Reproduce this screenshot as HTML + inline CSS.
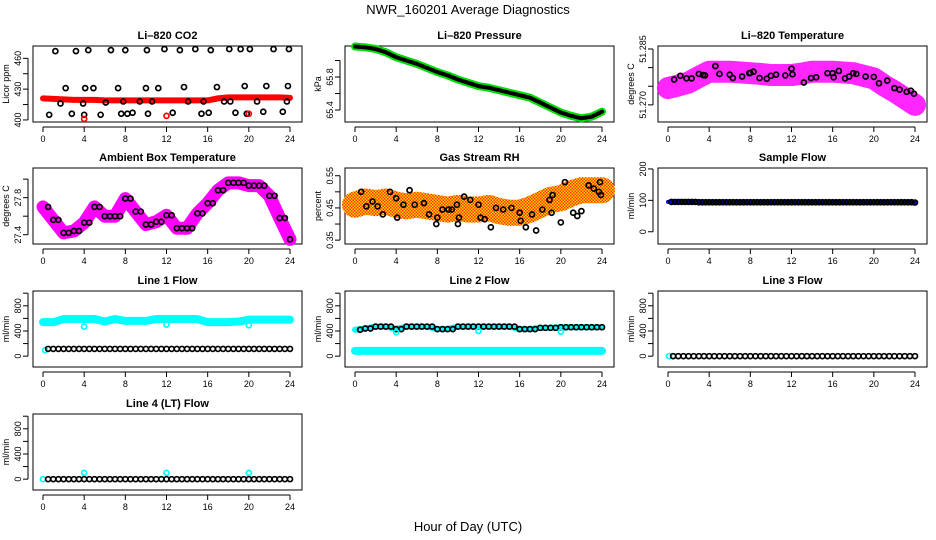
<!DOCTYPE html>
<html><head><meta charset="utf-8">
<style>
body{margin:0;background:#fff}
svg{display:block;font-family:"Liberation Sans",Arial,sans-serif}
</style></head>
<body>
<svg id="c" width="936" height="540" viewBox="0 0 936 540" xmlns="http://www.w3.org/2000/svg">
<defs>
<pattern id="rhpat" width="3" height="3" patternUnits="userSpaceOnUse"><rect width="3" height="3" fill="#ffd700"/><rect width="1.5" height="1.5" fill="#ff3000"/><rect x="1.5" y="1.5" width="1.5" height="1.5" fill="#ff3000"/></pattern>
</defs>
<text x="468" y="14" text-anchor="middle" font-size="13">NWR_160201  Average Diagnostics</text>
<text x="468" y="531" text-anchor="middle" font-size="13">Hour of Day (UTC)</text>
</svg>
<script>
// ---- data ----
const hours = [0,1,2,3,4,5,6,7,8,9,10,11,12,13,14,15,16,17,18,19,20,21,22,23,24];
const xTicks = [0,4,8,12,16,20,24];
// CO2
const co2Band = [421,420.5,420,419.5,419.5,419.5,419,419,419,419,419,419,419,419,419,419,419,421,422,422,422,422,422,422,421.5];
const co2BlackX = [0.6,1.2,1.7,2.2,2.8,3.2,3.9,4.0,4.1,4.4,4.9,5.6,6.1,6.6,7.3,7.6,7.8,8.0,8.2,8.7,9.4,10.0,10.1,10.2,10.6,11.2,11.8,12.6,13.3,13.7,14.1,14.8,15.4,15.6,16.1,16.3,16.9,17.6,18.1,18.2,18.7,19.2,19.6,19.8,20.1,20.8,21.4,21.7,22.4,23.3,23.7,23.8,23.9];
const co2BlackY = [405,467,416,431,406,467,416,405,431,468,431,405,417,468,431,406,418,468,406,407,418,431,468,406,418,431,469,407,468,432,418,469,406,418,407,468,432,418,469,418,407,469,433,406,469,418,408,433,469,408,418,433,469];
const co2RedX = [4.0,12.0,20.0];
const co2RedY = [401,404,406];
// Pressure
const presBand = [66.17,66.16,66.14,66.10,66.04,66.00,65.96,65.91,65.86,65.82,65.77,65.73,65.69,65.67,65.64,65.61,65.58,65.55,65.49,65.43,65.37,65.33,65.30,65.32,65.38];
// Li-820 temperature
const ltBand = [51.2745,51.2752,51.2760,51.2775,51.2789,51.2789,51.2789,51.2787,51.2785,51.2783,51.2780,51.2780,51.2780,51.2784,51.2789,51.2789,51.2789,51.2787,51.2785,51.2778,51.2771,51.2752,51.2736,51.2718,51.2700];
const ltBlackX = [0.6,1.2,1.8,2.3,3.0,3.4,3.6,4.6,5.0,6.0,6.3,7.2,7.9,8.0,8.3,8.9,9.6,10.0,10.5,11.4,12.0,12.1,13.2,13.9,14.4,15.5,16.0,16.1,16.6,17.2,17.6,18.0,18.3,19.2,20.0,20.5,21.3,22.0,22.5,23.2,23.6,23.9];
const ltBlackY = [51.2768,51.2778,51.2771,51.2771,51.2783,51.2780,51.2779,51.2804,51.2783,51.2781,51.2772,51.2776,51.2785,51.2786,51.2789,51.2772,51.2770,51.2778,51.2781,51.2779,51.2797,51.2782,51.2760,51.2772,51.2774,51.2785,51.2785,51.2774,51.2791,51.2771,51.2776,51.2785,51.2783,51.2776,51.2775,51.2758,51.2765,51.2745,51.2741,51.2735,51.2738,51.2730];
// Ambient box temperature
const ambBand = [27.70,27.56,27.42,27.44,27.53,27.70,27.60,27.60,27.79,27.65,27.51,27.54,27.61,27.47,27.47,27.63,27.74,27.88,27.96,27.96,27.93,27.93,27.82,27.58,27.35];
// Gas stream RH
const rhBand = [0.46,0.47,0.465,0.47,0.46,0.455,0.46,0.455,0.45,0.445,0.45,0.445,0.445,0.45,0.44,0.435,0.435,0.445,0.46,0.475,0.48,0.495,0.505,0.505,0.505];
const rhBlackX = [0.6,1.1,1.7,2.2,2.7,3.4,4.0,4.1,4.7,5.3,5.8,6.7,7.2,7.9,8.0,8.5,9.1,9.4,9.9,10.0,10.1,10.6,11.2,12.0,12.2,12.6,13.2,13.7,14.4,15.2,16.0,16.1,16.6,17.2,17.6,18.2,18.9,19.1,19.2,20.0,20.4,21.2,21.6,22.0,22.7,23.2,23.7,23.8,23.9];
const rhBlackY = [0.50,0.455,0.47,0.455,0.43,0.50,0.48,0.42,0.46,0.505,0.46,0.465,0.43,0.40,0.42,0.445,0.445,0.445,0.46,0.40,0.42,0.485,0.475,0.46,0.42,0.415,0.39,0.45,0.445,0.45,0.435,0.41,0.39,0.43,0.38,0.445,0.475,0.435,0.49,0.405,0.53,0.435,0.425,0.44,0.52,0.51,0.50,0.53,0.49];
// Sample flow
const sampleBand = [95,95,95,94,94,94,94,94,94,94,94,94,94,94,94,94,94,94,94,94,94,94,94,94,93];
// Line 1
const l1Cyan = [540,540,590,590,590,590,550,590,560,560,560,590,590,590,590,590,540,540,540,550,580,580,580,580,580];
const l1Black = [115,115,115,115,115,115,115,115,115,115,115,115,115,115,115,115,115,115,115,115,115,115,115,115,115];
const l1DipX = [4,12,20];
const l1DipY = [470,500,490];
// Line 2
const l2Black = [420,440,470,470,430,470,470,470,430,430,470,470,470,470,470,470,430,430,450,450,460,460,460,460,460];
const l2Cyan = [85,85,85,85,85,85,85,85,85,85,85,85,85,85,85,85,85,85,85,85,85,85,85,85,85];
const l2DipX = [4,12,20];
const l2DipY = [380,400,390];
// Line 3 / Line 4
const l3Black = [0,0,0,0,0,0,0,0,0,0,0,0,0,0,0,0,0,0,0,0,0,0,0,0,0];
const l4Black = [0,0,0,0,0,0,0,0,0,0,0,0,0,0,0,0,0,0,0,0,0,0,0,0,0];
const l4CyanX = [0,4,12,20];
const l4CyanY = [0,100,100,100];

// ---- drawing ----
const svg = document.getElementById('c');
const NS = 'http://www.w3.org/2000/svg';
function el(tag, attrs, parent){
  const e = document.createElementNS(NS, tag);
  for (const k in attrs) e.setAttribute(k, attrs[k]);
  (parent||svg).appendChild(e);
  return e;
}
const colX = [43, 355, 668];
const rowTop = [46, 168, 291, 414];
const BW = 269, BH = 76, XSPAN = 247;

function makePanel(col,row,name,title,ylab,ymin,ymax,ticks,labels){
  const g = el('g',{});
  
  
  const x0 = colX[col], top = rowTop[row], left = x0-10, bottom = top+BH;
  const sx = h => x0 + h/24*XSPAN;
  const sy = v => bottom - (v-ymin)/(ymax-ymin)*BH;
  const t = el('text',{x:left+BW/2,y:top-7,'text-anchor':'middle','font-size':11,'font-weight':'bold'},g);
  t.textContent = title;
  
  
  const r = el('rect',{x:left,y:top,width:BW,height:BH,fill:'none',stroke:'#000','stroke-width':1},g);
  
  
  el('line',{x1:sx(0),x2:sx(24),y1:bottom+5,y2:bottom+5,stroke:'#000'},g);
  xTicks.forEach(h=>{
    el('line',{x1:sx(h),x2:sx(h),y1:bottom+5,y2:bottom+10,stroke:'#000'},g);
    const tl = el('text',{x:sx(h),y:bottom+20,'text-anchor':'middle','font-size':9},g);
    tl.textContent = h;
    
    
  });
  el('line',{x1:left-5,x2:left-5,y1:sy(ticks[0]),y2:sy(ticks[ticks.length-1]),stroke:'#000'},g);
  ticks.forEach(v=>{
    el('line',{x1:left-10,x2:left-5,y1:sy(v),y2:sy(v),stroke:'#000'},g);
  });
  labels.forEach(v=>{
    const yl = el('text',{x:0,y:0,'text-anchor':'middle','font-size':9,transform:`translate(${left-12},${sy(v)}) rotate(-90)`},g);
    yl.textContent = v;
    
    
  });
  const yt = el('text',{x:0,y:0,'text-anchor':'middle','font-size':9,transform:`translate(${left-24},${top+BH/2}) rotate(-90)`},g);
  yt.textContent = ylab;
  
  
  return {g,sx,sy};
}
function band(p, vals, color, w, nm, op){
  const pts = hours.map((h,i)=>p.sx(h)+','+p.sy(vals[i])).join(' ');
  const pl = el('polyline',{points:pts,fill:'none',stroke:color,'stroke-width':w,'stroke-linejoin':'round','stroke-linecap':'round','stroke-opacity':op||1},p.g);
  
  
}
function pts(p, xs, ys, color, nm){
  xs.forEach((h,i)=>{
    const c = el('circle',{cx:p.sx(h),cy:p.sy(ys[i]),r:2.5,fill:'none',stroke:color,'stroke-width':1.7},p.g);
    
    
  });
}
function seriesPts(p, vals, color, nm, step){
  const xs=[], ys=[];
  for(let i=0;i<hours.length-1;i++){
    for(let k=0;k<step;k++){ xs.push(hours[i]+k/step); ys.push(vals[i]); }
  }
  xs.push(24); ys.push(vals[24]);
  pts(p, xs.filter((x,i)=>i>0), ys.filter((y,i)=>i>0), color, nm);
}

let p = makePanel(0,0,'co2-panel','Li\u2013820 CO2','Licor ppm',398,472,[400,415,430,445,460],[400,430,460]);
band(p, co2Band, '#ff0000', 6, 'co2-red-series');
pts(p, co2BlackX, co2BlackY, '#000', 'co2-black-point');
pts(p, co2RedX, co2RedY, '#ff0000', 'co2-red-point');

p = makePanel(1,0,'pressure-panel','Li\u2013820 Pressure','kPa',65.255,66.176,[65.4,65.6,65.8,66.0],[65.4,65.8]);
band(p, presBand, '#00dd00', 8, 'pressure-green-series');
band(p, presBand, '#000', 4, 'pressure-black-series');

p = makePanel(2,0,'li820-temp-panel','Li\u2013820 Temperature','degrees C',51.2654,51.2858,[51.270,51.275,51.280,51.285],['51.270','51.285']);
band(p, ltBand, '#ff00ff', 22, 'li820-temp-magenta-series', 0.85);
pts(p, ltBlackX, ltBlackY, '#000', 'li820-temp-black-point');

p = makePanel(0,1,'ambient-temp-panel','Ambient Box Temperature','degrees C',27.3,28.12,[27.4,27.6,27.8,28.0],['27.4','27.8']);
band(p, ambBand, '#ff00ff', 13, 'ambient-magenta-series');
seriesPts(p, ambBand, '#000', 'ambient-black-point', 2);

p = makePanel(1,1,'rh-panel','Gas Stream RH','percent',0.338,0.574,[0.35,0.40,0.45,0.50,0.55],['0.35','0.45','0.55']);
band(p, rhBand, 'url(#rhpat)', 26, 'rh-orange-series');
pts(p, rhBlackX, rhBlackY, '#000', 'rh-black-point');

p = makePanel(2,1,'sample-flow-panel','Sample Flow','ml/min',-39,203,[0,100,200],[0,100,200]);
band(p, sampleBand, '#0000ff', 4, 'sample-flow-blue-series');
seriesPts(p, sampleBand, '#000', 'sample-flow-black-point', 3);

const fT=[0,200,400,600,800,1000], fL=[0,400,800];
p = makePanel(0,2,'line1-flow-panel','Line 1 Flow','ml/min',-172,1035,fT,fL);
band(p, l1Cyan, '#00ffff', 8, 'line1-cyan-series');
pts(p, [0.2], [95], '#00ffff', 'line1-cyan-point');
seriesPts(p, l1Black, '#000', 'line1-black-point', 2);
pts(p, l1DipX, l1DipY, '#00ffff', 'line1-cyan-point');

p = makePanel(1,2,'line2-flow-panel','Line 2 Flow','ml/min',-172,1035,fT,fL);
band(p, l2Cyan, '#00ffff', 8, 'line2-cyan-series');
band(p, l2Black, '#00ffff', 6, 'line2-cyan-upper-series');
seriesPts(p, l2Black, '#000', 'line2-black-point', 2);
pts(p, l2DipX, l2DipY, '#00ffff', 'line2-cyan-point');

p = makePanel(2,2,'line3-flow-panel','Line 3 Flow','ml/min',-172,1035,fT,fL);
pts(p, [0.1], [0], '#00ffff', 'line3-cyan-point');
seriesPts(p, l3Black, '#000', 'line3-black-point', 2);

p = makePanel(0,3,'line4-flow-panel','Line 4 (LT) Flow','ml/min',-172,1035,fT,fL);
pts(p, l4CyanX, l4CyanY, '#00ffff', 'line4-cyan-point');
seriesPts(p, l4Black, '#000', 'line4-black-point', 2);
</script>
</body></html>
